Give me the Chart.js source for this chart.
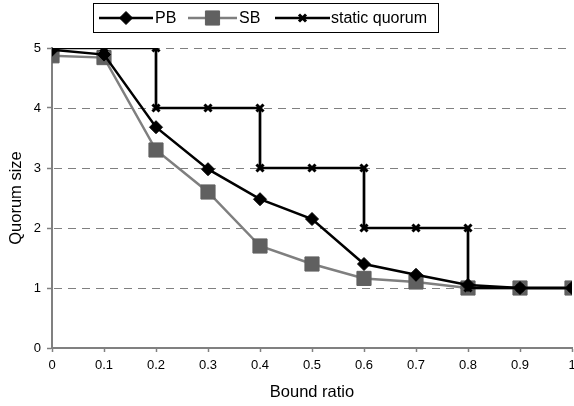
<!DOCTYPE html>
<html>
<head>
<meta charset="utf-8">
<script src="https://cdn.jsdelivr.net/npm/chart.js@4/dist/chart.umd.min.js"></script>
<style>
  html, body { margin: 0; padding: 0; background: #fff; }
  #wrap { width: 574px; height: 406px; position: relative; }
  canvas { display: block; }
</style>
</head>
<body>
<div id="wrap"><canvas id="c" width="574" height="406"></canvas></div>
<script>
// Bound ratio values on the x axis
const boundRatio = [0, 0.1, 0.2, 0.3, 0.4, 0.5, 0.6, 0.7, 0.8, 0.9, 1];
const xTickLabels = ['0', '0.1', '0.2', '0.3', '0.4', '0.5', '0.6', '0.7', '0.8', '0.9', '1'];
const yTickLabels = ['0', '1', '2', '3', '4', '5'];

// Quorum size per bound ratio
const pbValues = [4.97, 4.89, 3.68, 2.98, 2.48, 2.15, 1.40, 1.22, 1.05, 1.0, 1.0];
const sbValues = [4.87, 4.84, 3.30, 2.60, 1.70, 1.40, 1.16, 1.10, 1.00, 1.0, 1.0];

// Static quorum: step function (ratio, size) including the vertical drops
const staticX = [0, 0.1, 0.2, 0.2, 0.3, 0.4, 0.4, 0.5, 0.6, 0.6, 0.7, 0.8, 0.8, 0.9, 1];
const staticY = [5, 5, 5, 4, 4, 4, 3, 3, 3, 2, 2, 2, 1, 1, 1];

const seriesNames = ['PB', 'SB', 'static quorum'];

const toPoints = (xs, ys) => xs.map((x, i) => ({ x: x, y: ys[i] }));

const GRAY = '#808080';
const FONT = '"Liberation Sans", Arial, sans-serif';

Chart.defaults.font.family = FONT;
Chart.defaults.font.size = 13;
Chart.defaults.color = '#000';

// Dashed horizontal grid lines at each y tick above zero
const dashedGrid = {
  id: 'dashedGrid',
  beforeDatasetsDraw(chart) {
    const { ctx, chartArea, scales } = chart;
    const y = scales.y;
    ctx.save();
    ctx.strokeStyle = GRAY;
    ctx.lineWidth = 1;
    ctx.setLineDash([8, 6]);
    y.ticks.forEach(t => {
      if (t.value === 0) return;
      const py = Math.round(y.getPixelForValue(t.value)) + 0.5;
      ctx.beginPath();
      ctx.moveTo(chartArea.left + 2, py);
      ctx.lineTo(chartArea.right, py);
      ctx.stroke();
    });
    ctx.restore();
  }
};

// Boxed legend with line + marker samples
const boxLegend = {
  id: 'boxLegend',
  afterDraw(chart) {
    const ctx = chart.ctx;
    ctx.save();
    ctx.setLineDash([]);
    ctx.fillStyle = '#fff';
    ctx.fillRect(93.5, 3.5, 345, 29);
    ctx.strokeStyle = '#000';
    ctx.lineWidth = 1;
    ctx.strokeRect(93.5, 3.5, 345, 29);
    const cy = 18;
    const items = [
      { ds: chart.data.datasets[0], x0: 99, x1: 153, tx: 155 },
      { ds: chart.data.datasets[1], x0: 188, x1: 237, tx: 239 },
      { ds: chart.data.datasets[2], x0: 275, x1: 330, tx: 331 }
    ];
    items.forEach(it => {
      const ds = it.ds;
      ctx.strokeStyle = ds.borderColor;
      ctx.lineWidth = ds.borderWidth;
      ctx.beginPath();
      ctx.moveTo(it.x0, cy);
      ctx.lineTo(it.x1, cy);
      ctx.stroke();
      ctx.fillStyle = ds.pointBackgroundColor;
      ctx.strokeStyle = ds.pointBorderColor;
      ctx.lineWidth = ds.pointBorderWidth;
      Chart.helpers.drawPoint(ctx, {
        pointStyle: ds.pointStyle,
        rotation: 0,
        radius: ds.pointRadius,
        borderWidth: ds.pointBorderWidth
      }, (it.x0 + it.x1) / 2, cy);
      ctx.fillStyle = '#000';
      ctx.font = '16px ' + FONT;
      ctx.textBaseline = 'middle';
      ctx.textAlign = 'left';
      ctx.fillText(ds.label, it.tx, cy + 1);
    });
    ctx.restore();
  }
};

new Chart(document.getElementById('c'), {
  type: 'line',
  data: {
    datasets: [
      {
        label: seriesNames[0],
        data: toPoints(boundRatio, pbValues),
        borderColor: '#000',
        borderWidth: 2.5,
        pointStyle: 'rectRot',
        pointRadius: 6.5,
        pointBackgroundColor: '#000',
        pointBorderColor: '#000',
        pointBorderWidth: 1,
        order: 1
      },
      {
        label: seriesNames[1],
        data: toPoints(boundRatio, sbValues),
        borderColor: '#7f7f7f',
        borderWidth: 2.5,
        pointStyle: 'rect',
        pointRadius: 10,
        pointBackgroundColor: '#606060',
        pointBorderColor: '#606060',
        pointBorderWidth: 1,
        order: 2
      },
      {
        label: seriesNames[2],
        data: toPoints(staticX, staticY),
        borderColor: '#000',
        borderWidth: 2.7,
        pointStyle: 'crossRot',
        pointRadius: 5,
        pointBackgroundColor: '#000',
        pointBorderColor: '#000',
        pointBorderWidth: 3,
        order: 0
      }
    ]
  },
  options: {
    responsive: false,
    animation: false,
    events: [],
    layout: { autoPadding: false, padding: { left: 0, right: 2, top: 48, bottom: 0 } },
    plugins: {
      legend: { display: false },
      tooltip: { enabled: false }
    },
    elements: { line: { tension: 0 } },
    scales: {
      x: {
        type: 'linear',
        min: 0,
        max: 1,
        afterFit(s) { s.height = 58; s.paddingLeft = 0; s.paddingRight = 0; },
        afterBuildTicks(s) { s.ticks = boundRatio.map(v => ({ value: v })); },
        ticks: {
          autoSkip: false,
          maxRotation: 0,
          color: '#000',
          font: { family: FONT, size: 13 },
          padding: 6,
          callback: (v, i) => xTickLabels[i]
        },
        grid: {
          drawOnChartArea: false,
          tickLength: 4,
          tickColor: GRAY,
          tickWidth: 1.5
        },
        border: { color: GRAY, width: 2 },
        title: {
          display: true,
          text: 'Bound ratio',
          color: '#000',
          font: { family: FONT, size: 16.5 },
          padding: { top: 0, bottom: 4 }
        }
      },
      y: {
        min: 0,
        max: 5,
        afterFit(s) { s.width = 52; },
        ticks: {
          stepSize: 1,
          color: '#000',
          font: { family: FONT, size: 13 },
          padding: 6,
          callback: (v, i) => yTickLabels[i]
        },
        grid: {
          drawOnChartArea: false,
          tickLength: 5,
          tickColor: GRAY,
          tickWidth: 1.5
        },
        border: { color: GRAY, width: 2 },
        title: {
          display: true,
          text: 'Quorum size',
          color: '#000',
          font: { family: FONT, size: 16.5 },
          padding: { top: 7, bottom: 0 }
        }
      }
    }
  },
  plugins: [dashedGrid, boxLegend]
});
</script>
</body>
</html>
